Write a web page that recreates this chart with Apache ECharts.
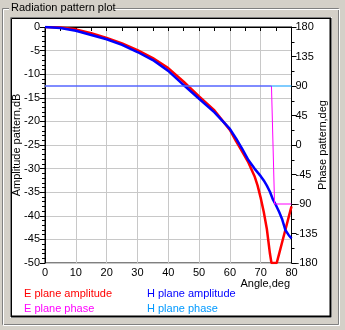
<!DOCTYPE html>
<html>
<head>
<meta charset="utf-8">
<script src="https://cdn.jsdelivr.net/npm/echarts@6/dist/echarts.min.js"></script>
<style>
html,body{margin:0;padding:0;background:#d4d0c8;}
#c{width:345px;height:330px;}
</style>
</head>
<body>
<div id="c"></div>
<script>
// Amplitude sampling angles (deg)
var eAmpAngles = [0,5,10,15,20,25,30,35,40,45,50,55,60,62,64,66,68,69,70,71,72,73,73.5,75.2,76,77,78,79,80];
var eAmpValues = [0,-0.1,-0.5,-1.3,-2.3,-3.5,-4.9,-6.6,-8.7,-11.6,-14.7,-17.7,-21.8,-24.2,-26.4,-28.7,-31.6,-33.6,-36.2,-39.2,-42.8,-48.0,-50,-50,-48.0,-45.5,-43.0,-40.5,-38.0];

var hAmpAngles = [0,5,10,15,20,25,30,35,40,45,50,55,60,62,64,66,68,69,70,71,72,73,74,75,76,77,78,79,80];
var hAmpValues = [0,-0.2,-0.8,-1.7,-2.6,-3.8,-5.3,-7.0,-9.3,-12.3,-15.2,-18.1,-21.6,-23.6,-25.8,-28.2,-30.0,-30.8,-31.6,-32.5,-33.6,-34.9,-36.6,-37.8,-39.2,-40.8,-43.0,-44.0,-44.8];

var ePhaseAngles = [0,73.5,74.5,80];
var ePhaseValues = [90,90,-90,-90];

var hPhaseAngles = [0,80];
var hPhaseValues = [90,90];

var seriesNames = ['E plane amplitude','H plane amplitude','E plane phase','H plane phase'];
var seriesColors = ['#ff0000','#0000ff','#ff00ff','#0099ff'];

var xTitle = 'Angle,deg';
var yLeftTitle = 'Amplitude pattern,dB';
var yRightTitle = 'Phase pattern,deg';
var chartTitle = 'Radiation pattern plot';

function pairs(a, v){ var out=[]; for(var i=0;i<a.length;i++) out.push([a[i], v[i]]); return out; }

var FONT = 'Liberation Sans';
var chart = echarts.init(document.getElementById('c'), null, {renderer:'canvas'});
var axisCommon = {
  axisLine:{show:true, lineStyle:{color:'#000', width:1}},
  axisTick:{show:true, inside:false, length:5, lineStyle:{color:'#000'}},
  minorTick:{show:true, length:3, lineStyle:{color:'#000'}},
  axisLabel:{color:'#000', fontFamily:FONT, fontSize:11}
};
// legend positions (one legend per entry, laid out in two columns)
var legendPos = [[14,282],[137,282],[14,297],[137,297]];
var legends = seriesNames.map(function(n,i){
  return {left:legendPos[i][0], top:legendPos[i][1], icon:'none', itemWidth:0, itemHeight:14, selectedMode:false,
    textStyle:{fontFamily:FONT, fontSize:11, color:seriesColors[i]}, data:[n]};
});
chart.setOption({
  animation:false,
  backgroundColor:'#d4d0c8',
  graphic:{elements:[
    {type:'rect', z:-5, shape:{x:2.5,y:8.5,width:336,height:316}, style:{fill:null, stroke:'#808080', lineWidth:1}},
    {type:'rect', z:-5, shape:{x:3.5,y:9.5,width:336,height:316}, style:{fill:null, stroke:'#ffffff', lineWidth:1}},
    {type:'rect', z:-4, shape:{x:9,y:2,width:104,height:13}, style:{fill:'#d4d0c8'}},
    {type:'text', z:-3, left:11, top:2, style:{text:chartTitle, font:'11px "Liberation Sans"', fill:'#000'}},
    {type:'rect', z:-4, shape:{x:10,y:17,width:322,height:301}, style:{fill:'#ffffff'}},
    {type:'polyline', z:-3, shape:{points:[[10.5,317],[10.5,17.5],[331,17.5]]}, style:{stroke:'#808080', lineWidth:1}},
    {type:'polyline', z:-3, shape:{points:[[11.5,316],[11.5,18.5],[330,18.5]]}, style:{stroke:'#000', lineWidth:1}},
    {type:'polyline', z:-3, shape:{points:[[11,316.5],[330.5,316.5],[330.5,18]]}, style:{stroke:'#000', lineWidth:2}},
    {type:'text', z:5, x:290, y:278, style:{text:xTitle, font:'11px "Liberation Sans"', fill:'#000', align:'right', verticalAlign:'top'}}
  ]},
  grid:{left:45, right:53.5, top:27, bottom:67, containLabel:false, outerBoundsMode:'none', show:true, borderColor:'#000', borderWidth:1, backgroundColor:'#fff'},
  legend:legends,
  xAxis:Object.assign({}, axisCommon, {
    type:'value', min:0, max:80, interval:10,
    axisTick:{show:true, inside:false, length:4, lineStyle:{color:'#000'}},
    minorTick:{show:true, splitNumber:2, length:4, lineStyle:{color:'#000'}},
    axisLabel:{color:'#000', fontFamily:FONT, fontSize:11, margin:4},
    splitLine:{show:true, lineStyle:{color:'#c8c8c8', width:1}}
  }),
  yAxis:[
    Object.assign({}, axisCommon, {
      type:'value', position:'left', min:-50, max:0, interval:5,
      minorTick:{show:true, splitNumber:5, length:3, lineStyle:{color:'#000'}},
      axisLabel:{color:'#000', fontFamily:FONT, fontSize:11, margin:5},
      splitLine:{show:true, lineStyle:{color:'#c8c8c8', width:1}},
      name:yLeftTitle, nameLocation:'middle', nameGap:23, nameMoveOverlap:false,
      nameTextStyle:{color:'#000', fontFamily:FONT, fontSize:11}
    }),
    Object.assign({}, axisCommon, {
      type:'value', position:'right', min:-180, max:180, interval:45,
      minorTick:{show:true, splitNumber:2, length:3, lineStyle:{color:'#000'}},
      axisLabel:{color:'#000', fontFamily:FONT, fontSize:11, margin:4},
      splitLine:{show:false},
      name:yRightTitle, nameLocation:'middle', nameGap:26, nameMoveOverlap:false,
      nameTextStyle:{color:'#000', fontFamily:FONT, fontSize:11}
    })
  ],
  series:[
    {name:seriesNames[0], type:'line', yAxisIndex:0, showSymbol:false, color:seriesColors[0], lineStyle:{width:2.5, color:seriesColors[0]}, data:pairs(eAmpAngles,eAmpValues)},
    {name:seriesNames[1], type:'line', yAxisIndex:0, showSymbol:false, color:seriesColors[1], lineStyle:{width:2.5, color:seriesColors[1]}, data:pairs(hAmpAngles,hAmpValues)},
    {name:seriesNames[2], type:'line', yAxisIndex:1, showSymbol:false, color:seriesColors[2], lineStyle:{width:1, color:seriesColors[2]}, data:pairs(ePhaseAngles,ePhaseValues)},
    {name:seriesNames[3], type:'line', yAxisIndex:1, showSymbol:false, color:seriesColors[3], lineStyle:{width:1, color:seriesColors[3]}, data:pairs(hPhaseAngles,hPhaseValues)}
  ]
});
</script>
</body>
</html>
